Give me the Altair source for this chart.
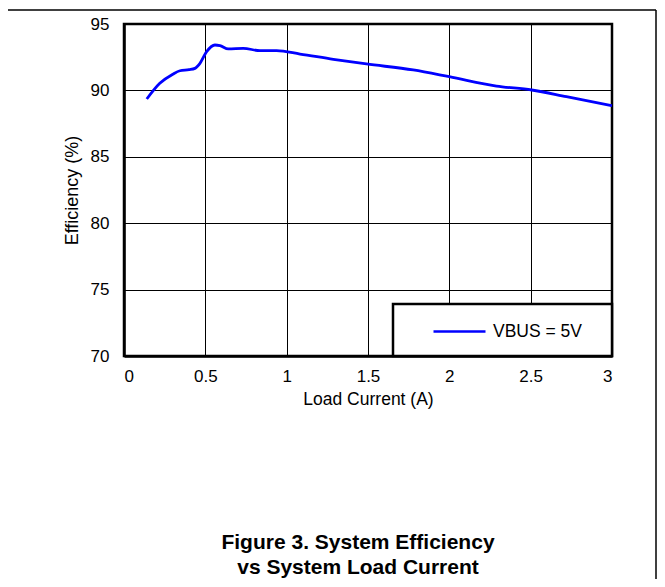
import altair as alt
import pandas as pd

# Data
load_current = [0.14, 0.22, 0.30, 0.344, 0.40, 0.436, 0.467, 0.508, 0.559, 0.59,
                0.641, 0.733, 0.836, 0.938, 1.082, 1.287, 1.49, 1.778, 2.0, 2.29,
                2.506, 2.72, 3.0]
efficiency = [89.35, 90.53, 91.22, 91.48, 91.56, 91.66, 92.04, 92.92, 93.42, 93.37,
              93.12, 93.17, 92.99, 92.99, 92.74, 92.34, 91.99, 91.54, 91.03, 90.33,
              90.03, 89.53, 88.85]
series_name = "VBUS = 5V"
x_ticks = [0, 0.5, 1, 1.5, 2, 2.5, 3]
y_ticks = [70, 75, 80, 85, 90, 95]
caption = ["Figure 3. System Efficiency", "vs System Load Current"]

df = pd.DataFrame({"current": load_current, "eff": efficiency,
                   "series": [series_name] * len(load_current)})

FONT = "Liberation Sans"
W, H = 488, 332

line = alt.Chart(df).mark_line(strokeWidth=2.8, interpolate="monotone").encode(
    x=alt.X("current:Q", scale=alt.Scale(domain=[0, 3], nice=False),
            axis=alt.Axis(values=x_ticks, format="~g", title="Load Current (A)",
                          titlePadding=6, labelPadding=12, titleFontSize=17.5)),
    y=alt.Y("eff:Q", scale=alt.Scale(domain=[70, 95], nice=False, zero=False),
            axis=alt.Axis(values=y_ticks, title="Efficiency (%)", titlePadding=9,
                          labelPadding=15, titleFontSize=18)),
    color=alt.Color("series:N", scale=alt.Scale(range=["#0000ff"]),
                    legend=alt.Legend(title=None, orient="none", legendX=308, legendY=280,
                                      symbolSize=2704, symbolStrokeWidth=2.5,
                                      labelFontSize=17.5, labelFont=FONT, labelColor="#000",
                                      labelOffset=6, padding=0)),
)

one = pd.DataFrame({"k": [0]})

legend_box = alt.Chart(one).mark_rect(
    fill="white", stroke="black", strokeWidth=2.5
).encode(x=alt.value(269), x2=alt.value(488), y=alt.value(280), y2=alt.value(332))

top_frame = alt.Chart(one).mark_rule(color="black", strokeWidth=1.5).encode(
    x=alt.value(-124), x2=alt.value(532), y=alt.value(-14))
right_frame = alt.Chart(one).mark_rule(color="black", strokeWidth=1.5).encode(
    x=alt.value(532), y=alt.value(-14), y2=alt.value(555))

cap = alt.Chart(pd.DataFrame({"t": ["\n".join(caption)]})).mark_text(
    font=FONT, fontSize=21, fontWeight="bold", color="#000", align="center",
    baseline="alphabetic", lineBreak="\n", lineHeight=25
).encode(x=alt.value(234), y=alt.value(525), text="t:N")

chart = alt.layer(line, legend_box, top_frame, right_frame, cap).properties(
    width=W, height=H,
    autosize=alt.AutoSizeParams(type="none"),
    padding={"left": 116, "top": 16, "right": 45, "bottom": 223},
).configure_view(stroke="black", strokeWidth=2.5).configure_axis(
    labelFont=FONT, titleFont=FONT, labelFontSize=17, titleFontSize=18,
    labelColor="#000", titleColor="#000", titleFontWeight="normal",
    grid=True, gridColor="#000", gridWidth=1, gridOpacity=1,
    domainColor="#000", domainWidth=2.5, ticks=False,
)

chart.save("out.html", embed_options={"renderer": "svg", "actions": False})
